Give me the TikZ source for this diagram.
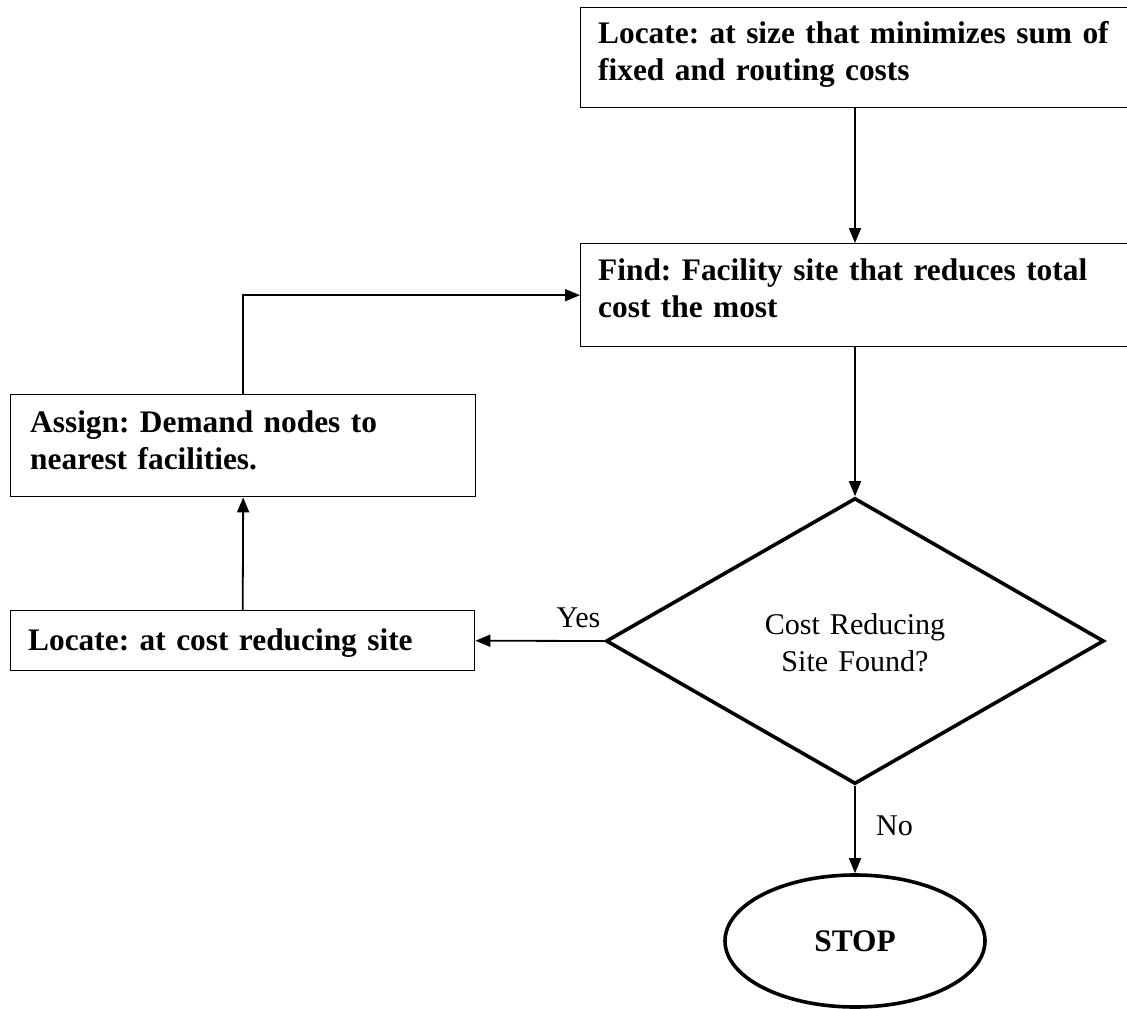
\documentclass[tikz,border=0pt]{standalone}
\usepackage{fontspec}
\setmainfont{Liberation Serif}
\usetikzlibrary{shapes.geometric,arrows.meta}
\newlength\mywA
\newlength\mywB
\begin{document}
\frenchspacing
\settowidth\mywA{\fontsize{10pt}{12pt}\selectfont\bfseries Locate: at cost reducing site}
\settowidth\mywB{\fontsize{10pt}{12pt}\selectfont Cost Reducing}
\pgfmathsetmacro\bsz{10*374/\mywA}
\pgfmathsetmacro\rsz{10*178/\mywB}
\tikzset{
  boxline/.style={draw, line width=1.4pt, rectangle, inner sep=0pt, anchor=north west},
  boldfont/.style={font=\fontsize{\bsz pt}{37pt}\selectfont\bfseries},
  boxtext/.style={boldfont, align=left, text width=540pt, inner sep=0pt, anchor=base west},
  plain/.style={font=\fontsize{\rsz pt}{37pt}\selectfont},
  thick outline/.style={draw, line width=3.6pt, inner sep=0pt},
  arr/.style={line width=1.8pt, -{Triangle[length=15pt,width=12pt]}},
}
\begin{tikzpicture}[x=1pt,y=-1pt]
\useasboundingbox (0,0) rectangle (1127,1009);
\clip (0,0) rectangle (1127,1009);
\fill[white] (0,0) rectangle (1127,1009);

\node[boxline, minimum width=570pt, minimum height=100pt] (b1) at (580,7) {};
\node[boxtext] (t1) at (598,43) {Locate: at size that minimizes sum of\\fixed and routing costs};

\node[boxline, minimum width=570pt, minimum height=103pt] (b2) at (580,243) {};
\node[boxtext] (t2) at (598,280) {Find: Facility site that reduces total\\cost the most};

\node[boxline, minimum width=465pt, minimum height=102pt] (b3) at (10,394) {};
\node[boxtext] (t3) at (30,432) {Assign: Demand nodes to\\nearest facilities.};

\node[boxline, minimum width=464pt, minimum height=60pt] (b4) at (10,610) {};
\node[boxtext] (t4) at (28,650) {Locate: at cost reducing site};

\node[diamond, thick outline, minimum width=498pt, minimum height=286pt] (dia) at (855,641) {};
\node[plain, align=center, text width=300pt, inner sep=0pt, anchor=base] (dt) at (855,634) {Cost Reducing\\Site Found?};

\node[ellipse, thick outline, minimum width=260pt, minimum height=132pt, boldfont] (stop) at (855,941) {STOP};

\draw[arr] (b1.south -| dia.north) -- (b2.north -| dia.north);
\draw[arr] (b2.south -| dia.north) -- (dia.north);
\draw[arr] (dia.west) -- (b4.east) node[plain, pos=0.2, anchor=base, yshift=13pt] (yes) {Yes};
\draw[arr] (b4.north) -- (b3.south);
\draw[arr] (b3.north) |- (b2.west);
\draw[arr] (dia.south) -- (stop.north) node[plain, pos=0.5, anchor=base west, xshift=17pt, yshift=-6pt] (no) {No};
\end{tikzpicture}
\end{document}
